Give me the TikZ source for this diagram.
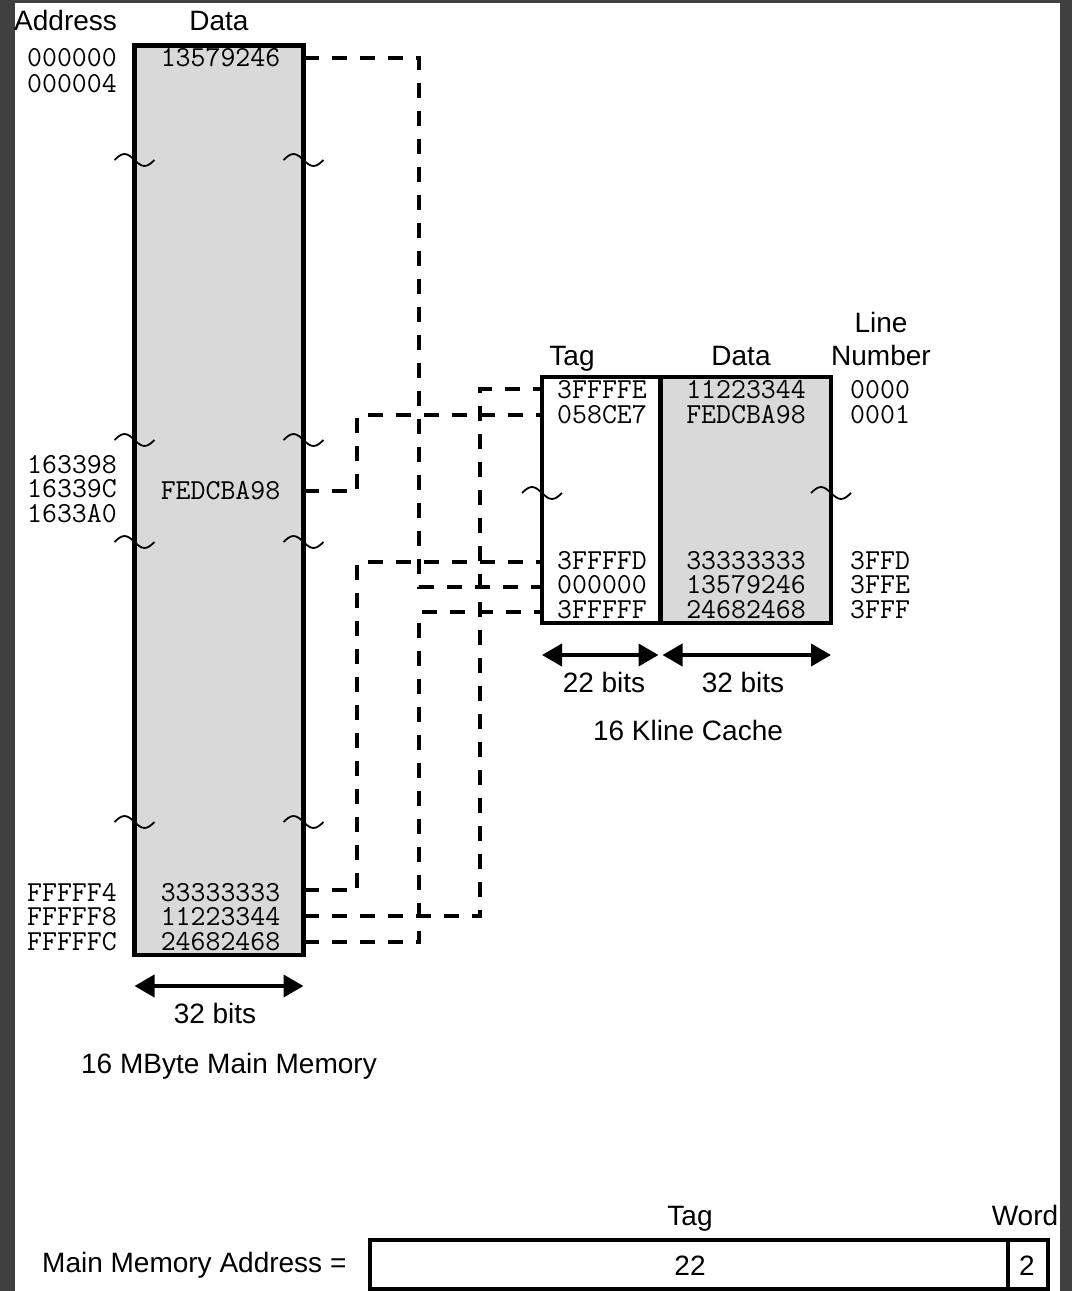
\documentclass[tikz,border=0pt]{standalone}
\usepackage{fontspec}
\setmainfont{Liberation Sans}
\usetikzlibrary{arrows.meta}
\pgfdeclarelayer{background}
\pgfsetlayers{background,main}
\definecolor{bggray}{HTML}{404040}
\definecolor{memgray}{HTML}{D9D9D9}
\begin{document}
\begin{tikzpicture}[x=1pt,y=-1pt,
  sans/.style={font=\fontsize{28}{30}\selectfont, inner sep=0pt, anchor=base},
  mono/.style={font=\ttfamily\fontsize{29}{24.5}\selectfont, inner sep=0pt, anchor=base, align=center},
  boxstyle/.style={draw, line width=4.5pt, inner sep=0pt, outer sep=0pt, anchor=north west},
  conn/.style={line width=4.5pt, dash pattern=on 15pt off 13pt},
  tild/.style={line width=1.8pt},
  dimarrow/.style={line width=4pt, {Triangle[length=20pt,width=22pt]}-{Triangle[length=20pt,width=22pt]}},
  tildemark/.pic={\draw[tild] (-20,0) sin (-10,-6) cos (0,0) sin (10,6) cos (20,0);}]
\useasboundingbox (0,0) rectangle (1072,1291);
\begin{pgfonlayer}{background}
\fill[bggray] (0,0) rectangle (1072,1291);
\fill[white] (15,3) rectangle (1060,1291);
\end{pgfonlayer}

% headers
\node[sans, anchor=base west] (hAddr) at (14,30) {Address};
\node[sans] (hData) at (219,30) {Data};

% main memory
\node[boxstyle, fill=memgray, minimum width=169pt, minimum height=909.5pt] (mem) at (134.5,45.5) {};

% cache
\node[boxstyle, fill=white, minimum width=118.5pt, minimum height=246pt] (tag) at (542,377) {};
\node[boxstyle, fill=memgray, minimum width=170.5pt, minimum height=246pt] (cdata) at (660.5,377) {};

% row coordinates
\coordinate (mA) at (0,58);
\coordinate (mF) at (0,491);
\coordinate (m3) at (0,890);
\coordinate (m1) at (0,916);
\coordinate (m2) at (0,942);
\coordinate (c0) at (0,389);
\coordinate (c1) at (0,415);
\coordinate (cD) at (0,562);
\coordinate (cE) at (0,587);
\coordinate (cF) at (0,612);
\coordinate (vA) at (357,0);
\coordinate (vB) at (419,0);
\coordinate (vC) at (480,0);

% connectors
\begin{pgfonlayer}{background}
\draw[conn] (mem.east |- mA) -- (vB |- mA) -- (vB |- cE) -- (tag.west |- cE);
\draw[conn] (mem.east |- mF) -- (vA |- mF) -- (vA |- c1) -- (tag.west |- c1);
\draw[conn] (mem.east |- m3) -- (vA |- m3) -- (vA |- cD) -- (tag.west |- cD);
\draw[conn] (mem.east |- m1) -- (vC |- m1) -- (vC |- c0) -- (tag.west |- c0);
\draw[conn] (mem.east |- m2) -- (vB |- m2) -- (vB |- cF) -- (tag.west |- cF);
\end{pgfonlayer}

% tildes
\foreach \ty in {160,440,542,822}{
  \pic at (134.5,\ty) {tildemark};
  \pic at (303.5,\ty) {tildemark};
}
\pic at (542,493) {tildemark};
\pic at (831,493) {tildemark};

% memory addresses (base anchor = last line)
\node[mono, anchor=base east, align=right, font=\ttfamily\fontsize{29}{26}\selectfont] (a1) at (117,92) {000000\\000004};
\node[mono, anchor=base east, align=right] (a3) at (117,522) {163398\\16339C\\1633A0};
\node[mono, anchor=base east, align=right] (a6) at (117,950) {FFFFF4\\FFFFF8\\FFFFFC};

% memory data
\node[mono] (d1) at (220.5,66) {13579246};
\node[mono] (d2) at (220.5,499) {FEDCBA98};
\node[mono] (d3) at (220.5,950) {33333333\\11223344\\24682468};

% memory dimension
\coordinate (ya) at (0,986);
\draw[dimarrow] (mem.west |- ya) -- (mem.east |- ya);
\node[sans] (mbits) at (215,1023) {32 bits};
\node[sans] (mcap) at (229,1073) {16 MByte Main Memory};

% cache headers
\node[sans] (hTag) at (572,365) {Tag};
\node[sans] (hCData) at (741,365) {Data};
\node[sans, align=center, font=\fontsize{28}{33}\selectfont] (hLine) at (881,365) {Line\\Number};

% cache contents
\node[mono] (t1) at (602,423) {3FFFFE\\058CE7};
\node[mono] (t3) at (602,618) {3FFFFD\\000000\\3FFFFF};
\node[mono] (e1) at (746,423) {11223344\\FEDCBA98};
\node[mono] (e3) at (746,618) {33333333\\13579246\\24682468};
\node[mono, anchor=base west, align=left] (l1) at (850,423) {0000\\0001};
\node[mono, anchor=base west, align=left] (l3) at (850,618) {3FFD\\3FFE\\3FFF};

% cache dimensions
\coordinate (yb) at (0,655);
\draw[dimarrow, shorten >=2pt] (tag.west |- yb) -- (tag.east |- yb);
\draw[dimarrow, shorten <=2pt] (cdata.west |- yb) -- (cdata.east |- yb);
\node[sans] (cb1) at (604,692) {22 bits};
\node[sans] (cb2) at (743,692) {32 bits};
\node[sans] (ccap) at (688,740) {16 Kline Cache};

% address format
\node[sans, anchor=base west] (mma) at (42,1272) {Main Memory Address =};
\node[boxstyle, line width=4pt, minimum width=638pt, minimum height=49pt] (ftag) at (370,1240) {};
\node[boxstyle, line width=4pt, minimum width=40pt, minimum height=49pt] (fword) at (1008,1240) {};
\node[sans] (ftagv) at (690,1275) {22};
\node[sans] (fwordv) at (1027,1275) {2};
\node[sans] (ftagh) at (690,1225) {Tag};
\node[sans] (fwordh) at (1025,1225) {Word};
\end{tikzpicture}
\end{document}
